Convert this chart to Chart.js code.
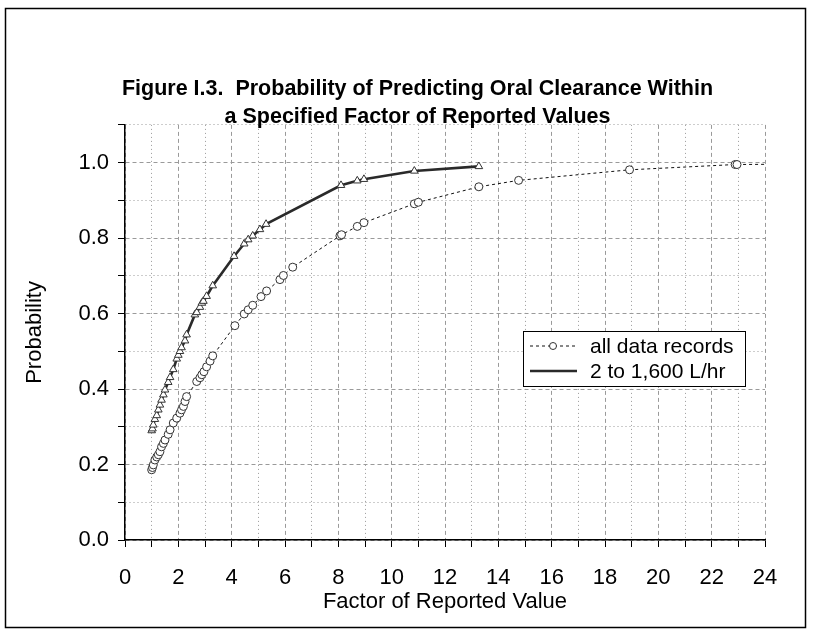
<!DOCTYPE html>
<html>
<head>
<meta charset="utf-8">
<script src="https://cdn.jsdelivr.net/npm/chart.js@4/dist/chart.umd.min.js"></script>
<style>
  html, body { margin: 0; padding: 0; background: #fff; }
  #wrap { position: relative; width: 814px; height: 636px; }
</style>
</head>
<body>
<div id="wrap"><canvas id="c" width="814" height="636"></canvas></div>
<script>
// ---- data ----
const titleLines = ['Figure I.3.  Probability of Predicting Oral Clearance Within', 'a Specified Factor of Reported Values'];
const xTitle = 'Factor of Reported Value';
const yTitle = 'Probability';
const seriesNames = ['all data records', '2 to 1,600 L/hr'];

const allX = [1.00,1.03,1.06,1.12,1.19,1.25,1.31,1.37,1.44,1.50,1.62,1.69,1.81,1.94,2.06,2.12,2.19,2.25,2.31,2.69,2.81,2.88,2.96,3.06,3.19,3.29,4.12,4.47,4.62,4.79,5.10,5.31,5.81,5.94,6.29,8.06,8.12,8.71,8.96,10.85,11.00,13.27,14.76,18.92,22.88,22.95,25.0];
const allP = [0.186,0.192,0.199,0.212,0.220,0.226,0.234,0.247,0.256,0.265,0.280,0.292,0.310,0.323,0.336,0.345,0.354,0.367,0.380,0.420,0.430,0.438,0.446,0.459,0.474,0.488,0.568,0.599,0.610,0.622,0.645,0.660,0.690,0.701,0.723,0.806,0.809,0.831,0.841,0.891,0.895,0.936,0.953,0.981,0.995,0.995,0.996];

const subX = [1.00,1.03,1.06,1.12,1.19,1.25,1.31,1.37,1.44,1.50,1.62,1.69,1.81,1.94,2.00,2.06,2.12,2.25,2.31,2.62,2.69,2.81,2.88,2.94,3.06,3.29,4.09,4.47,4.62,4.79,5.06,5.29,8.10,8.71,8.96,10.85,13.27];
const subP = [0.290,0.295,0.305,0.320,0.330,0.345,0.358,0.371,0.385,0.398,0.418,0.431,0.452,0.480,0.490,0.500,0.510,0.528,0.544,0.597,0.603,0.617,0.628,0.633,0.646,0.674,0.752,0.785,0.796,0.806,0.823,0.837,0.940,0.952,0.956,0.978,0.990];

const xMin = 0, xMax = 24, xStep = 1;
const yMin = 0, yMax = 1.1, yStep = 0.1;

// ---- styling ----
const FONT = '"Liberation Sans", Arial, Helvetica, sans-serif';
const toPts = (xs, ys) => xs.map((x, i) => ({ x: x, y: ys[i] }));

const isMajorX = v => Math.round(v) % 2 === 0;
const isMajorY = v => Math.round(v * 10) % 2 === 0;

const gridDash = (isMajor) => (ctx) => {
  if (!ctx.tick) return [];
  return isMajor(ctx.tick.value) ? [4, 3] : [1, 3];
};

const framePlugin = {
  id: 'frame',
  beforeDraw(chart) {
    const c = chart.ctx;
    c.save();
    c.fillStyle = '#fff';
    c.fillRect(0, 0, chart.width, chart.height);
    c.strokeStyle = '#000';
    c.lineWidth = 1.5;
    c.strokeRect(5.5, 8.5, 800, 619);
    c.restore();
  }
};

const legendPlugin = {
  id: 'boxLegend',
  afterDraw(chart) {
    const c = chart.ctx;
    const bx = 523, by = 331, bw = 222, bh = 55;
    c.save();
    c.fillStyle = '#fff';
    c.fillRect(bx, by, bw, bh);
    c.strokeStyle = '#000';
    c.lineWidth = 1;
    c.strokeRect(bx + 0.5, by + 0.5, bw, bh);
    chart.data.datasets.forEach((ds, i) => {
      const y = by + 15 + i * 25;
      c.strokeStyle = ds.borderColor;
      c.lineWidth = ds.borderWidth;
      c.setLineDash(ds.borderDash || []);
      c.beginPath();
      c.moveTo(530, y);
      c.lineTo(577, y);
      c.stroke();
      c.setLineDash([]);
      if (i === 0) {
        c.fillStyle = '#fff';
        c.lineWidth = 1;
        c.strokeStyle = '#333';
        c.beginPath();
        c.arc(553, y, 3.5, 0, Math.PI * 2);
        c.fill();
        c.stroke();
      }
      c.fillStyle = '#000';
      c.font = '21px ' + FONT;
      c.textBaseline = 'middle';
      c.textAlign = 'left';
      c.fillText(ds.label, 590, y + 1);
    });
    c.restore();
  }
};

new Chart(document.getElementById('c'), {
  type: 'scatter',
  data: {
    datasets: [
      {
        label: seriesNames[0],
        data: toPts(allX, allP),
        showLine: true,
        borderColor: '#111',
        borderWidth: 1,
        borderDash: [3, 3],
        pointStyle: 'circle',
        pointRadius: 4,
        pointBorderWidth: 1,
        pointBackgroundColor: '#fff',
        pointBorderColor: '#333',
        order: 2
      },
      {
        label: seriesNames[1],
        data: toPts(subX, subP),
        showLine: true,
        borderColor: '#2a2a2a',
        borderWidth: 2.6,
        pointStyle: 'triangle',
        pointRadius: 4.4,
        pointBorderWidth: 1,
        pointBackgroundColor: '#fff',
        pointBorderColor: '#333',
        order: 1
      }
    ]
  },
  options: {
    responsive: false,
    animation: false,
    events: [],
    layout: { padding: { left: 21, right: 0, top: 0, bottom: 0 } },
    plugins: {
      legend: { display: false },
      tooltip: { enabled: false },
      title: {
        display: true,
        text: titleLines,
        color: '#000',
        font: { family: FONT, size: 21.5, weight: 'bold', lineHeight: 1.3 },
        padding: { top: 75, bottom: -6 }
      }
    },
    scales: {
      x: {
        type: 'linear',
        min: xMin, max: xMax,
        afterFit: s => { s.height = 96; },
        ticks: {
          stepSize: xStep,
          autoSkip: false,
          maxRotation: 0,
          color: '#000',
          padding: 18,
          font: { family: FONT, size: 22 },
          callback: v => isMajorX(v) ? String(Math.round(v)) : ''
        },
        grid: {
          color: '#9a9a9a',
          lineWidth: 1,
          drawTicks: true,
          tickLength: 7,
          tickColor: '#000',
          tickWidth: 1,
          tickBorderDash: []
        },
        border: { display: true, color: '#000', width: 1.5, dash: gridDash(isMajorX) },
        title: {
          display: true, text: xTitle, color: '#000',
          font: { family: FONT, size: 22 },
          padding: { top: 0, bottom: 21 }
        }
      },
      y: {
        type: 'linear',
        position: 'left',
        min: yMin, max: yMax,
        afterFit: s => { s.width = 104; },
        ticks: {
          stepSize: yStep,
          autoSkip: false,
          color: '#000',
          padding: 9,
          font: { family: FONT, size: 22 },
          callback: v => isMajorY(v) ? v.toFixed(1) : ''
        },
        grid: {
          color: '#9a9a9a',
          lineWidth: 1,
          drawTicks: true,
          tickLength: 7,
          tickColor: '#000',
          tickWidth: 1,
          tickBorderDash: []
        },
        border: { display: true, color: '#000', width: 1.5, dash: gridDash(isMajorY) },
        title: {
          display: true, text: yTitle, color: '#000',
          font: { family: FONT, size: 22 },
          padding: { top: 1, bottom: 0 }
        }
      },
      yPad: {
        type: 'linear',
        position: 'right',
        min: 0, max: 1,
        afterFit: s => { s.width = 49; },
        ticks: { display: false },
        grid: { display: false, drawTicks: false },
        border: { display: false }
      }
    }
  },
  plugins: [framePlugin, legendPlugin]
});
</script>
</body>
</html>
